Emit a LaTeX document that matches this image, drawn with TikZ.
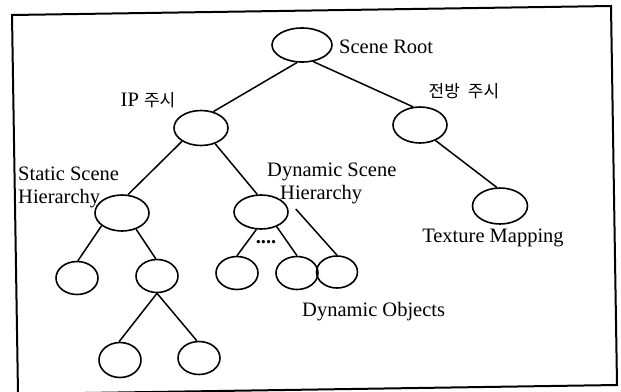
\documentclass[tikz,border=0pt]{standalone}
\usepackage{fontspec}
\setmainfont{Liberation Serif}
\newfontfamily\krfont{Noto Sans CJK KR}
\usetikzlibrary{shapes.geometric}
\begin{document}
\begin{tikzpicture}[x=1pt,y=-1pt,
  nd/.style={draw, ellipse, line width=1.6pt, inner sep=0pt},
  big/.style={nd, minimum width=54pt, minimum height=35pt},
  small/.style={nd, minimum width=42pt, minimum height=33pt},
  ln/.style={line width=1.5pt},
  lbl/.style={inner sep=0pt, font=\fontsize{20.5}{23}\selectfont},
  kr/.style={font=\krfont\fontsize{17}{17}\selectfont}
]
\useasboundingbox (0,0) rectangle (621,391);
\clip (0,0) rectangle (621,391);
% frame (slightly rotated scan)
\draw[line width=2pt] (12,15) -- (611,6) -- (617,385) -- (18,394) -- cycle;

% nodes
\node[big, minimum width=60pt, minimum height=34pt] (root) at (302,45) {};
\node[big] (ip) at (201,128) {};
\node[big, minimum height=36pt] (fwd) at (420,125) {};
\node[big, minimum height=36pt] (stat) at (122,213) {};
\node[big, minimum height=34pt] (dyn) at (261,212) {};
\node[big, minimum width=55pt, minimum height=36pt] (tex) at (500,206) {};
\node[small] (s1) at (77,278) {};
\node[small] (s2) at (157,276) {};
\node[small, minimum height=35pt] (s21) at (120,360) {};
\node[small] (s22) at (199,358) {};
\node[small] (d1) at (237,273) {};
\node[small] (d2) at (297,273) {};
\node[small, minimum width=41pt, minimum height=32pt] (d3) at (337,272) {};

% connectors
\draw[ln] (root.254) -- (ip.53);
\draw[ln] (root.304) -- (fwd.111);
\draw[ln] (ip.215) -- (stat.72);
\draw[ln] (ip.312) -- (dyn.102);
\draw[ln] (fwd.315) -- (tex.100);
\draw[ln] (stat.212) -- (s1.87);
\draw[ln] (stat.311) -- (s2.94);
\draw[ln] (s2.south) -- (s21.93);
\draw[ln] (s2.south) -- (s22.97);
\draw[ln] (dyn.255) -- (d1.north);
\draw[ln] (dyn.317) -- (d2.north);
\draw[ln] ([shift={(7,-3)}]dyn.east) -- (d3.north);

% labels
\node[lbl, anchor=west] (lroot) at (339,47) {Scene Root};
\node[lbl] (lip) at (148,100) {IP {\krfont\fontsize{17}{17}\selectfont 주시}};
\node[lbl] (lfwd) at (464,91) {{\krfont\fontsize{17}{17}\selectfont 전방\hspace{8pt}주시}};
\node[lbl, align=left, anchor=north west] (lstat) at (18,167) {Static Scene\\Hierarchy};
\node[lbl, align=left, anchor=north west] (ldyn) at (267,163) {Dynamic Scene\\\hspace*{13pt}Hierarchy};
\node[lbl, anchor=base] (ltex) at (493,242) {Texture Mapping};
\node[lbl, anchor=base] (ldots) at (266,243) {\textbf{....}};
\node[lbl, anchor=base west] (lobj) at (302,316) {Dynamic Objects};
\end{tikzpicture}
\end{document}
